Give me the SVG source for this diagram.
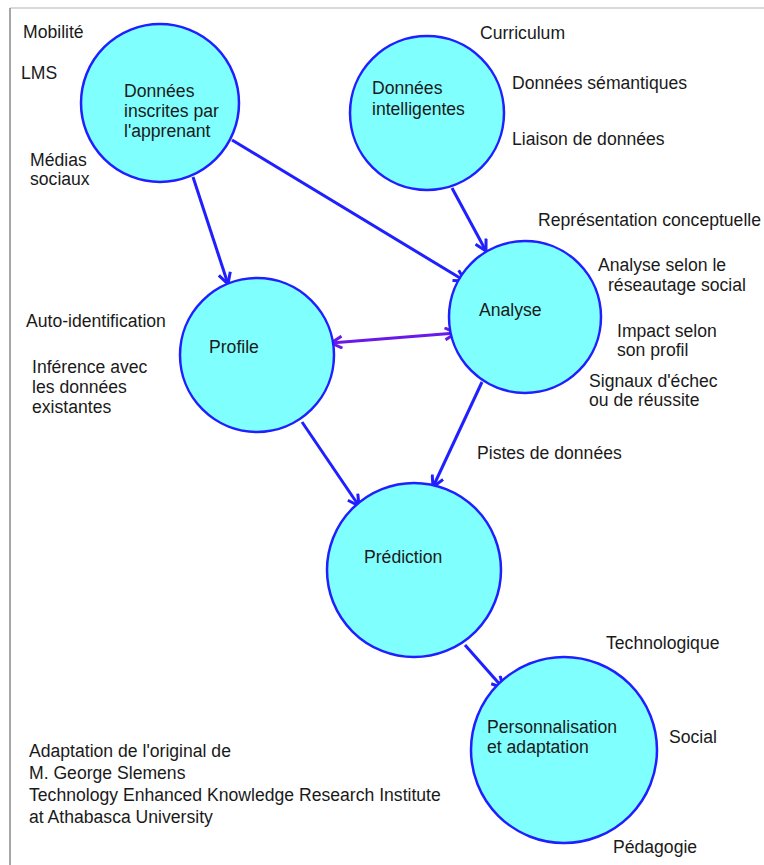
<svg xmlns="http://www.w3.org/2000/svg" width="764" height="865" viewBox="0 0 764 865">
<style>
text{font-family:"Liberation Sans",Arial,sans-serif;font-size:17.6px;fill:#1a1a1a}
.node circle{fill:#80ffff;stroke:#1f1fff;stroke-width:2.5}
.c{stroke:#1f1fff;stroke-width:3;fill:none}
.p{stroke:#6a1ae8;stroke-width:3;fill:none}
</style>
<defs>
<marker id="a" viewBox="0 0 14 14" refX="12" refY="7" markerWidth="14" markerHeight="14" markerUnits="userSpaceOnUse" orient="auto-start-reverse">
<polyline points="1,1 12,7 1,13" fill="none" stroke="#1f1fff" stroke-width="3"/>
</marker>
<marker id="ap" viewBox="0 0 14 14" refX="12" refY="7" markerWidth="14" markerHeight="14" markerUnits="userSpaceOnUse" orient="auto-start-reverse">
<polyline points="1,1 12,7 1,13" fill="none" stroke="#6a1ae8" stroke-width="3"/>
</marker>
</defs>
<rect width="764" height="865" fill="#fff"/>
<line x1="10" y1="8" x2="764" y2="8" stroke="#cccccc" stroke-width="1.5"/>
<line x1="10" y1="8" x2="10" y2="865" stroke="#888888" stroke-width="1.5"/>

<g id="connectors">
<line class="c" x1="193" y1="177" x2="228" y2="284" marker-end="url(#a)"/>
<line class="c" x1="232" y1="140" x2="465" y2="281" marker-end="url(#a)"/>
<line class="c" x1="452" y1="188" x2="486" y2="251" marker-end="url(#a)"/>
<line class="p" x1="331" y1="343" x2="456" y2="333" marker-start="url(#ap)" marker-end="url(#ap)"/>
<line class="c" x1="302" y1="422" x2="359" y2="506" marker-end="url(#a)"/>
<line class="c" x1="482" y1="382" x2="433" y2="487" marker-end="url(#a)"/>
<line class="c" x1="465" y1="645" x2="503" y2="688" marker-end="url(#a)"/>
</g>

<g id="n-donnees-inscrites" class="node">
<circle cx="160" cy="103" r="79"/>
<text x="124" y="97">Données</text>
<text x="124" y="117">inscrites par</text>
<text x="124" y="137">l'apprenant</text>
</g>
<g id="n-donnees-intelligentes" class="node">
<circle cx="427" cy="113" r="77"/>
<text x="372" y="94">Données</text>
<text x="372" y="115">intelligentes</text>
</g>
<g id="n-profile" class="node">
<circle cx="257" cy="355" r="77"/>
<text x="209" y="353">Profile</text>
</g>
<g id="n-analyse" class="node">
<circle cx="525" cy="317" r="76"/>
<text x="479" y="316">Analyse</text>
</g>
<g id="n-prediction" class="node">
<circle cx="414" cy="570" r="87"/>
<text x="364" y="563">Prédiction</text>
</g>
<g id="n-personnalisation" class="node">
<circle cx="564" cy="750" r="93"/>
<text x="487" y="733">Personnalisation</text>
<text x="487" y="753">et adaptation</text>
</g>

<g id="labels">
<text x="23" y="38">Mobilité</text>
<text x="21" y="79">LMS</text>
<text x="30" y="166">Médias</text>
<text x="30" y="185">sociaux</text>
<text x="480" y="39">Curriculum</text>
<text x="512" y="89">Données sémantiques</text>
<text x="512" y="145">Liaison de données</text>
<text x="538" y="226">Représentation conceptuelle</text>
<text x="598" y="271">Analyse selon le</text>
<text x="608" y="291">réseautage social</text>
<text x="617" y="337">Impact selon</text>
<text x="617" y="356">son profil</text>
<text x="589" y="387">Signaux d'échec</text>
<text x="589" y="406">ou de réussite</text>
<text x="26" y="327">Auto-identification</text>
<text x="32" y="373">Inférence avec</text>
<text x="32" y="393">les données</text>
<text x="32" y="413">existantes</text>
<text x="477" y="459">Pistes de données</text>
<text x="606" y="649">Technologique</text>
<text x="669" y="743">Social</text>
<text x="613" y="853">Pédagogie</text>
<text x="29" y="757">Adaptation de l'original de</text>
<text x="29" y="779">M. George Slemens</text>
<text x="29" y="801">Technology Enhanced Knowledge Research Institute</text>
<text x="29" y="823">at Athabasca University</text>
</g>
</svg>
